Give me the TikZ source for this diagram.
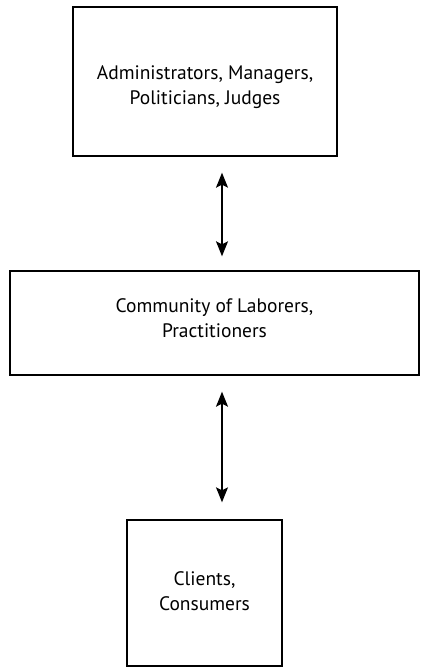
\documentclass[tikz,border=0pt]{standalone}
\usepackage{fontspec}
\setmainfont{PT Sans}
\usetikzlibrary{arrows.meta}
\begin{document}
\begin{tikzpicture}[x=1pt,y=-1pt,
  box/.style={draw=black,line width=1.4pt,inner sep=0pt},
  lbl/.style={inner sep=0pt,align=center,font=\fontsize{19.5}{25.5}\selectfont},
  link/.style={line width=1.2pt,{Stealth[length=15pt,width=12pt,inset=3pt]}-{Stealth[length=15pt,width=12pt,inset=3pt]}}]
\useasboundingbox (0,0) rectangle (420,668);
\node[box,minimum width=264pt,minimum height=149pt] (top) at (205,81.5) {};
\node[box,minimum width=409pt,minimum height=104pt] (mid) at (214.5,323) {};
\node[box,minimum width=155pt,minimum height=146pt] (bot) at (204.5,593) {};
\node[lbl] (toplbl) at (205,87) {Administrators, Managers,\\Politicians, Judges};
\node[lbl] (midlbl) at (214.5,318) {Community of Laborers,\\Practitioners};
\node[lbl] (botlbl) at (204.5,591) {Clients,\\Consumers};
\draw[link,shorten <=16pt,shorten >=14pt] (top.south -| 222,0) -- (mid.north -| 222,0);
\draw[link,shorten <=16pt,shorten >=17pt] (mid.south -| 222,0) -- (bot.north -| 222,0);
\end{tikzpicture}
\end{document}
